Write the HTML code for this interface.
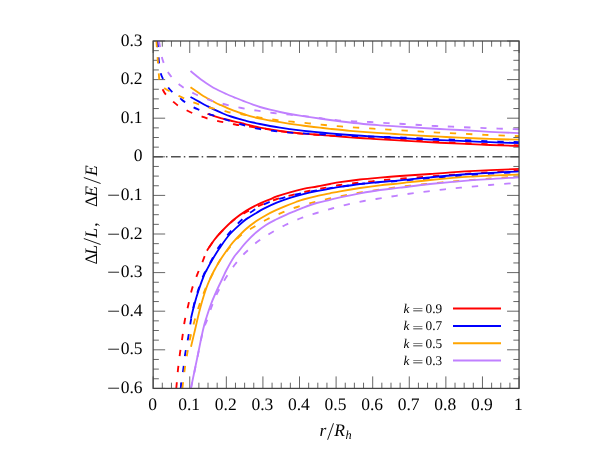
<!DOCTYPE html>
<html><head><meta charset="utf-8"><title>chart</title>
<style>.t{font-family:"Liberation Serif",serif;fill:#000;text-rendering:geometricPrecision;}html,body{margin:0;padding:0;background:#fff;}body{width:601px;height:450px;overflow:hidden;position:relative;font-family:"Liberation Serif",serif;}</style>
</head><body>
<svg width="601" height="450" viewBox="0 0 601 450" style="position:absolute;left:0;top:0">
<rect width="601" height="450" fill="#fff"/>
<defs><clipPath id="cp"><rect x="153.15" y="41.00" width="365.90" height="347.40"/></clipPath></defs>
<path d="M153.15 41.00 v12.00 M153.15 388.40 v-12.00 M162.30 41.00 v5.70 M162.30 388.40 v-5.70 M171.44 41.00 v5.70 M171.44 388.40 v-5.70 M180.59 41.00 v5.70 M180.59 388.40 v-5.70 M189.74 41.00 v12.00 M189.74 388.40 v-12.00 M198.89 41.00 v5.70 M198.89 388.40 v-5.70 M208.03 41.00 v5.70 M208.03 388.40 v-5.70 M217.18 41.00 v5.70 M217.18 388.40 v-5.70 M226.33 41.00 v12.00 M226.33 388.40 v-12.00 M235.48 41.00 v5.70 M235.48 388.40 v-5.70 M244.62 41.00 v5.70 M244.62 388.40 v-5.70 M253.77 41.00 v5.70 M253.77 388.40 v-5.70 M262.92 41.00 v12.00 M262.92 388.40 v-12.00 M272.07 41.00 v5.70 M272.07 388.40 v-5.70 M281.22 41.00 v5.70 M281.22 388.40 v-5.70 M290.36 41.00 v5.70 M290.36 388.40 v-5.70 M299.51 41.00 v12.00 M299.51 388.40 v-12.00 M308.66 41.00 v5.70 M308.66 388.40 v-5.70 M317.80 41.00 v5.70 M317.80 388.40 v-5.70 M326.95 41.00 v5.70 M326.95 388.40 v-5.70 M336.10 41.00 v12.00 M336.10 388.40 v-12.00 M345.25 41.00 v5.70 M345.25 388.40 v-5.70 M354.39 41.00 v5.70 M354.39 388.40 v-5.70 M363.54 41.00 v5.70 M363.54 388.40 v-5.70 M372.69 41.00 v12.00 M372.69 388.40 v-12.00 M381.84 41.00 v5.70 M381.84 388.40 v-5.70 M390.99 41.00 v5.70 M390.99 388.40 v-5.70 M400.13 41.00 v5.70 M400.13 388.40 v-5.70 M409.28 41.00 v12.00 M409.28 388.40 v-12.00 M418.43 41.00 v5.70 M418.43 388.40 v-5.70 M427.57 41.00 v5.70 M427.57 388.40 v-5.70 M436.72 41.00 v5.70 M436.72 388.40 v-5.70 M445.87 41.00 v12.00 M445.87 388.40 v-12.00 M455.02 41.00 v5.70 M455.02 388.40 v-5.70 M464.16 41.00 v5.70 M464.16 388.40 v-5.70 M473.31 41.00 v5.70 M473.31 388.40 v-5.70 M482.46 41.00 v12.00 M482.46 388.40 v-12.00 M491.61 41.00 v5.70 M491.61 388.40 v-5.70 M500.75 41.00 v5.70 M500.75 388.40 v-5.70 M509.90 41.00 v5.70 M509.90 388.40 v-5.70 M519.05 41.00 v12.00 M519.05 388.40 v-12.00 M153.15 41.00 h12.00 M519.05 41.00 h-12.00 M153.15 50.65 h5.70 M519.05 50.65 h-5.70 M153.15 60.30 h5.70 M519.05 60.30 h-5.70 M153.15 69.95 h5.70 M519.05 69.95 h-5.70 M153.15 79.60 h12.00 M519.05 79.60 h-12.00 M153.15 89.25 h5.70 M519.05 89.25 h-5.70 M153.15 98.90 h5.70 M519.05 98.90 h-5.70 M153.15 108.55 h5.70 M519.05 108.55 h-5.70 M153.15 118.20 h12.00 M519.05 118.20 h-12.00 M153.15 127.85 h5.70 M519.05 127.85 h-5.70 M153.15 137.50 h5.70 M519.05 137.50 h-5.70 M153.15 147.15 h5.70 M519.05 147.15 h-5.70 M153.15 156.80 h12.00 M519.05 156.80 h-12.00 M153.15 166.45 h5.70 M519.05 166.45 h-5.70 M153.15 176.10 h5.70 M519.05 176.10 h-5.70 M153.15 185.75 h5.70 M519.05 185.75 h-5.70 M153.15 195.40 h12.00 M519.05 195.40 h-12.00 M153.15 205.05 h5.70 M519.05 205.05 h-5.70 M153.15 214.70 h5.70 M519.05 214.70 h-5.70 M153.15 224.35 h5.70 M519.05 224.35 h-5.70 M153.15 234.00 h12.00 M519.05 234.00 h-12.00 M153.15 243.65 h5.70 M519.05 243.65 h-5.70 M153.15 253.30 h5.70 M519.05 253.30 h-5.70 M153.15 262.95 h5.70 M519.05 262.95 h-5.70 M153.15 272.60 h12.00 M519.05 272.60 h-12.00 M153.15 282.25 h5.70 M519.05 282.25 h-5.70 M153.15 291.90 h5.70 M519.05 291.90 h-5.70 M153.15 301.55 h5.70 M519.05 301.55 h-5.70 M153.15 311.20 h12.00 M519.05 311.20 h-12.00 M153.15 320.85 h5.70 M519.05 320.85 h-5.70 M153.15 330.50 h5.70 M519.05 330.50 h-5.70 M153.15 340.15 h5.70 M519.05 340.15 h-5.70 M153.15 349.80 h12.00 M519.05 349.80 h-12.00 M153.15 359.45 h5.70 M519.05 359.45 h-5.70 M153.15 369.10 h5.70 M519.05 369.10 h-5.70 M153.15 378.75 h5.70 M519.05 378.75 h-5.70 M153.15 388.40 h12.00 M519.05 388.40 h-12.00" stroke="#404040" stroke-width="0.8" fill="none"/>
<path d="M153.15 156.80 H519.05" stroke="#505050" stroke-width="1.6" stroke-dasharray="9.7 3.1 1.5 3.56" stroke-dashoffset="0" fill="none"/>
<g clip-path="url(#cp)" fill="none" stroke-width="1.85" stroke-linejoin="round">
<path d="M207.50 113.80 C208.75 114.22 211.92 115.35 215.00 116.30 C218.08 117.25 221.83 118.43 226.00 119.50 C230.17 120.57 236.67 121.90 240.00 122.70 C243.33 123.50 242.67 123.48 246.00 124.30 C249.33 125.12 254.33 126.48 260.00 127.60 C265.67 128.72 273.33 130.05 280.00 131.00 C286.67 131.95 293.33 132.65 300.00 133.30 C306.67 133.95 315.00 134.50 320.00 134.90 C325.00 135.30 325.00 135.30 330.00 135.70 C335.00 136.10 343.33 136.80 350.00 137.30 C356.67 137.80 363.33 138.28 370.00 138.70 C376.67 139.12 381.67 139.30 390.00 139.80 C398.33 140.30 408.33 141.05 420.00 141.70 C431.67 142.35 448.33 143.15 460.00 143.70 C471.67 144.25 480.12 144.62 490.00 145.00 C499.88 145.38 514.42 145.83 519.30 146.00" stroke="#ff0000"/>
<path d="M207.00 250.70 C208.17 248.95 211.50 243.48 214.00 240.20 C216.50 236.92 218.67 234.45 222.00 231.00 C225.33 227.55 230.00 222.85 234.00 219.50 C238.00 216.15 242.00 213.42 246.00 210.90 C250.00 208.38 254.00 206.33 258.00 204.40 C262.00 202.47 266.88 200.63 270.00 199.30 C273.12 197.97 273.37 197.57 276.70 196.40 C280.03 195.23 285.57 193.55 290.00 192.30 C294.43 191.05 298.80 189.87 303.30 188.90 C307.80 187.93 312.55 187.32 317.00 186.50 C321.45 185.68 326.17 184.72 330.00 184.00 C333.83 183.28 335.00 182.95 340.00 182.20 C345.00 181.45 353.33 180.27 360.00 179.50 C366.67 178.73 373.33 178.18 380.00 177.60 C386.67 177.02 391.67 176.60 400.00 176.00 C408.33 175.40 418.33 174.80 430.00 174.00 C441.67 173.20 455.12 172.05 470.00 171.20 C484.88 170.35 511.08 169.28 519.30 168.90" stroke="#ff0000"/>
<path d="M162.60 89.30 C163.12 90.15 164.00 92.40 165.70 94.40 C167.40 96.40 170.78 99.47 172.80 101.30 C174.82 103.13 175.55 103.93 177.80 105.40 C180.05 106.87 183.90 108.83 186.30 110.10 C188.70 111.37 189.67 111.97 192.20 113.00 C194.73 114.03 198.95 115.38 201.50 116.30 C204.05 117.22 204.92 117.75 207.50 118.50 C210.08 119.25 214.33 120.18 217.00 120.80 C219.67 121.42 220.83 121.67 223.50 122.20 C226.17 122.73 230.42 123.50 233.00 124.00 C235.58 124.50 236.17 124.77 239.00 125.20 C241.83 125.63 246.50 126.15 250.00 126.60 C253.50 127.05 255.00 127.13 260.00 127.90 C265.00 128.67 273.33 130.27 280.00 131.20 C286.67 132.13 293.33 132.87 300.00 133.50 C306.67 134.13 314.17 134.58 320.00 135.00 C325.83 135.42 332.50 135.83 335.00 136.00" stroke="#ff0000" stroke-dasharray="6.3 9.9" stroke-dashoffset="0"/>
<path d="M335.80 135.60 C338.17 135.78 344.30 136.28 350.00 136.70 C355.70 137.12 363.33 137.68 370.00 138.10 C376.67 138.52 381.67 138.72 390.00 139.20 C398.33 139.68 408.33 140.37 420.00 141.00 C431.67 141.63 448.33 142.45 460.00 143.00 C471.67 143.55 480.12 143.92 490.00 144.30 C499.88 144.68 514.42 145.13 519.30 145.30" stroke="#ff0000" stroke-dasharray="6.3 9.9" stroke-dashoffset="0"/>
<path d="M176.30 388.40 C176.58 385.23 177.38 375.27 178.00 369.40 C178.62 363.53 179.27 358.60 180.00 353.20 C180.73 347.80 181.62 342.37 182.40 337.00 C183.18 331.63 183.72 326.33 184.70 321.00 C185.68 315.67 187.08 310.33 188.30 305.00 C189.52 299.67 190.45 294.22 192.00 289.00 C193.55 283.78 195.82 278.32 197.60 273.70 C199.38 269.08 201.13 265.08 202.70 261.30 C204.27 257.52 205.12 254.48 207.00 251.00 C208.88 247.52 211.50 243.70 214.00 240.40 C216.50 237.10 218.67 234.63 222.00 231.20 C225.33 227.77 229.87 223.03 234.00 219.80 C238.13 216.57 242.27 214.30 246.80 211.80 C251.33 209.30 256.17 206.93 261.20 204.80 C266.23 202.67 271.73 200.67 277.00 199.00 C282.27 197.33 287.50 196.13 292.80 194.80 C298.10 193.47 303.48 192.15 308.80 191.00 C314.12 189.85 319.50 188.90 324.70 187.90 C329.90 186.90 334.78 185.82 340.00 185.00 C345.22 184.18 350.67 183.62 356.00 183.00 C361.33 182.38 366.67 181.85 372.00 181.30 C377.33 180.75 378.33 180.50 388.00 179.70 C397.67 178.90 416.33 177.53 430.00 176.50 C443.67 175.47 455.12 174.50 470.00 173.50 C484.88 172.50 511.08 171.00 519.30 170.50" stroke="#ff0000" stroke-dasharray="6.3 9.9" stroke-dashoffset="0"/>
<path d="M190.50 97.00 C191.42 97.50 194.25 99.03 196.00 100.00 C197.75 100.97 199.33 101.88 201.00 102.80 C202.67 103.72 204.58 104.77 206.00 105.50 C207.42 106.23 207.92 106.42 209.50 107.20 C211.08 107.98 213.25 109.15 215.50 110.20 C217.75 111.25 220.42 112.45 223.00 113.50 C225.58 114.55 228.17 115.55 231.00 116.50 C233.83 117.45 237.50 118.48 240.00 119.20 C242.50 119.92 243.83 120.25 246.00 120.80 C248.17 121.35 250.67 121.97 253.00 122.50 C255.33 123.03 257.17 123.42 260.00 124.00 C262.83 124.58 266.67 125.38 270.00 126.00 C273.33 126.62 276.67 127.18 280.00 127.70 C283.33 128.22 286.67 128.65 290.00 129.10 C293.33 129.55 296.67 130.00 300.00 130.40 C303.33 130.80 306.67 131.15 310.00 131.50 C313.33 131.85 316.67 132.18 320.00 132.50 C323.33 132.82 325.00 132.98 330.00 133.40 C335.00 133.82 343.33 134.52 350.00 135.00 C356.67 135.48 363.33 135.88 370.00 136.30 C376.67 136.72 381.67 137.02 390.00 137.50 C398.33 137.98 408.33 138.63 420.00 139.20 C431.67 139.77 448.33 140.40 460.00 140.90 C471.67 141.40 480.12 141.83 490.00 142.20 C499.88 142.57 514.42 142.95 519.30 143.10" stroke="#0000ff"/>
<path d="M191.00 318.00 C191.62 315.55 193.42 307.97 194.70 303.30 C195.98 298.63 197.15 294.67 198.70 290.00 C200.25 285.33 202.67 278.63 204.00 275.30 C205.33 271.97 205.37 272.50 206.70 270.00 C208.03 267.50 209.90 263.88 212.00 260.30 C214.10 256.72 216.30 252.88 219.30 248.50 C222.30 244.12 226.00 238.50 230.00 234.00 C234.00 229.50 239.97 224.38 243.30 221.50 C246.63 218.62 247.77 218.17 250.00 216.70 C252.23 215.23 254.48 214.00 256.70 212.70 C258.92 211.40 259.97 210.57 263.30 208.90 C266.63 207.23 272.25 204.53 276.70 202.70 C281.15 200.87 285.57 199.32 290.00 197.90 C294.43 196.48 298.85 195.32 303.30 194.20 C307.75 193.08 312.25 192.12 316.70 191.20 C321.15 190.28 326.12 189.42 330.00 188.70 C333.88 187.98 335.00 187.68 340.00 186.90 C345.00 186.12 353.33 184.82 360.00 184.00 C366.67 183.18 373.33 182.62 380.00 182.00 C386.67 181.38 391.67 181.08 400.00 180.30 C408.33 179.52 418.33 178.35 430.00 177.30 C441.67 176.25 455.12 175.00 470.00 174.00 C484.88 173.00 511.08 171.75 519.30 171.30" stroke="#0000ff"/>
<path d="M157.60 41.00 C157.80 44.17 158.52 56.17 158.80 60.00 C159.08 63.83 158.97 61.77 159.30 64.00 C159.63 66.23 160.15 70.87 160.80 73.40 C161.45 75.93 161.97 76.85 163.20 79.20 C164.43 81.55 166.63 85.30 168.20 87.50 C169.77 89.70 170.62 90.60 172.60 92.40 C174.58 94.20 178.00 96.67 180.10 98.30 C182.20 99.93 182.97 100.70 185.20 102.20 C187.43 103.70 191.12 106.00 193.50 107.30 C195.88 108.60 197.00 108.92 199.50 110.00 C202.00 111.08 205.92 112.80 208.50 113.80 C211.08 114.80 212.08 115.02 215.00 116.00 C217.92 116.98 221.83 118.37 226.00 119.70 C230.17 121.03 234.78 122.52 240.00 124.00 C245.22 125.48 251.52 127.43 257.30 128.60 C263.08 129.77 269.13 130.32 274.70 131.00 C280.27 131.68 285.37 132.27 290.70 132.70 C296.03 133.13 300.15 133.27 306.70 133.60 C313.25 133.93 322.78 134.33 330.00 134.70 C337.22 135.07 343.33 135.50 350.00 135.80 C356.67 136.10 363.88 136.32 370.00 136.50 C376.12 136.68 381.15 136.72 386.70 136.90 C392.25 137.08 397.75 137.35 403.30 137.60 C408.85 137.85 414.43 138.17 420.00 138.40 C425.57 138.63 431.25 138.78 436.70 139.00 C442.15 139.22 444.65 139.35 452.70 139.70 C460.75 140.05 473.90 140.68 485.00 141.10 C496.10 141.52 513.58 142.02 519.30 142.20" stroke="#0000ff" stroke-dasharray="6.3 9.9" stroke-dashoffset="0"/>
<path d="M180.70 388.40 C181.13 385.23 182.53 375.27 183.30 369.40 C184.07 363.53 184.47 358.60 185.30 353.20 C186.13 347.80 187.38 342.37 188.30 337.00 C189.22 331.63 189.80 326.62 190.80 321.00 C191.80 315.38 193.07 308.47 194.30 303.30 C195.53 298.13 196.67 294.67 198.20 290.00 C199.73 285.33 201.32 280.18 203.50 275.30 C205.68 270.42 208.78 265.37 211.30 260.70 C213.82 256.03 215.35 252.22 218.60 247.30 C221.85 242.38 227.10 235.62 230.80 231.20 C234.50 226.78 237.03 224.27 240.80 220.80 C244.57 217.33 248.97 213.38 253.40 210.40 C257.83 207.42 262.43 205.00 267.40 202.90 C272.37 200.80 277.97 199.32 283.20 197.80 C288.43 196.28 293.45 195.00 298.80 193.80 C304.15 192.60 310.10 191.53 315.30 190.60 C320.50 189.67 325.05 188.97 330.00 188.20 C334.95 187.43 339.67 186.73 345.00 186.00 C350.33 185.27 356.17 184.43 362.00 183.80 C367.83 183.17 373.67 182.68 380.00 182.20 C386.33 181.72 391.67 181.57 400.00 180.90 C408.33 180.23 418.33 179.18 430.00 178.20 C441.67 177.22 455.12 176.03 470.00 175.00 C484.88 173.97 511.08 172.50 519.30 172.00" stroke="#0000ff" stroke-dasharray="6.3 9.9" stroke-dashoffset="0"/>
<path d="M190.50 87.20 C191.42 87.83 194.25 89.78 196.00 91.00 C197.75 92.22 199.33 93.42 201.00 94.50 C202.67 95.58 204.33 96.55 206.00 97.50 C207.67 98.45 209.33 99.28 211.00 100.20 C212.67 101.12 214.33 102.17 216.00 103.00 C217.67 103.83 219.33 104.47 221.00 105.20 C222.67 105.93 224.50 106.75 226.00 107.40 C227.50 108.05 228.33 108.43 230.00 109.10 C231.67 109.77 234.00 110.67 236.00 111.40 C238.00 112.13 240.33 112.93 242.00 113.50 C243.67 114.07 244.17 114.23 246.00 114.80 C247.83 115.37 250.67 116.25 253.00 116.90 C255.33 117.55 257.17 118.10 260.00 118.70 C262.83 119.30 266.67 119.92 270.00 120.50 C273.33 121.08 276.67 121.65 280.00 122.20 C283.33 122.75 286.67 123.30 290.00 123.80 C293.33 124.30 296.67 124.75 300.00 125.20 C303.33 125.65 306.67 126.08 310.00 126.50 C313.33 126.92 316.67 127.32 320.00 127.70 C323.33 128.08 325.00 128.28 330.00 128.80 C335.00 129.32 343.33 130.20 350.00 130.80 C356.67 131.40 363.33 131.92 370.00 132.40 C376.67 132.88 385.00 133.38 390.00 133.70 C395.00 134.02 395.00 133.98 400.00 134.30 C405.00 134.62 413.33 135.20 420.00 135.60 C426.67 136.00 433.33 136.35 440.00 136.70 C446.67 137.05 451.67 137.33 460.00 137.70 C468.33 138.07 480.12 138.57 490.00 138.90 C499.88 139.23 514.42 139.57 519.30 139.70" stroke="#ffa500"/>
<path d="M191.00 346.70 C191.67 343.92 193.72 335.45 195.00 330.00 C196.28 324.55 197.42 319.12 198.70 314.00 C199.98 308.88 201.27 304.05 202.70 299.30 C204.13 294.55 205.63 289.80 207.30 285.50 C208.97 281.20 211.37 276.33 212.70 273.50 C214.03 270.67 213.97 270.87 215.30 268.50 C216.63 266.13 218.25 263.05 220.70 259.30 C223.15 255.55 227.45 249.38 230.00 246.00 C232.55 242.62 233.33 241.83 236.00 239.00 C238.67 236.17 242.67 231.95 246.00 229.00 C249.33 226.05 252.67 223.60 256.00 221.30 C259.33 219.00 262.67 217.05 266.00 215.20 C269.33 213.35 272.67 211.75 276.00 210.20 C279.33 208.65 282.67 207.27 286.00 205.90 C289.33 204.53 293.12 203.07 296.00 202.00 C298.88 200.93 299.85 200.48 303.30 199.50 C306.75 198.52 312.25 197.13 316.70 196.10 C321.15 195.07 326.12 194.10 330.00 193.30 C333.88 192.50 335.00 192.18 340.00 191.30 C345.00 190.42 353.33 189.00 360.00 188.00 C366.67 187.00 373.33 186.08 380.00 185.30 C386.67 184.52 391.67 184.18 400.00 183.30 C408.33 182.42 418.33 181.10 430.00 180.00 C441.67 178.90 455.12 177.63 470.00 176.70 C484.88 175.77 511.08 174.78 519.30 174.40" stroke="#ffa500"/>
<path d="M156.40 41.00 L159.20 79.40 L160.60 82.60 L164.20 88.10 C165.15 88.65 167.48 90.12 169.90 91.40 C172.32 92.68 176.23 94.62 178.70 95.80 C181.17 96.98 182.25 97.40 184.70 98.50 C187.15 99.60 190.90 101.38 193.40 102.40 C195.90 103.42 197.10 103.75 199.70 104.60 C202.30 105.45 206.37 106.77 209.00 107.50 C211.63 108.23 212.83 108.38 215.50 109.00 C218.17 109.62 222.42 110.60 225.00 111.20 C227.58 111.80 228.42 112.13 231.00 112.60 C233.58 113.07 238.00 113.60 240.50 114.00 C243.00 114.40 242.75 114.40 246.00 115.00 C249.25 115.60 255.00 116.77 260.00 117.60 C265.00 118.43 270.67 119.32 276.00 120.00 C281.33 120.68 286.55 121.15 292.00 121.70 C297.45 122.25 303.25 122.75 308.70 123.30 C314.15 123.85 319.37 124.48 324.70 125.00 C330.03 125.52 335.37 125.97 340.70 126.40 C346.03 126.83 351.27 127.22 356.70 127.60 C362.13 127.98 367.97 128.37 373.30 128.70 C378.63 129.03 383.25 129.28 388.70 129.60 C394.15 129.92 400.45 130.25 406.00 130.60 C411.55 130.95 416.67 131.37 422.00 131.70 C427.33 132.03 432.55 132.33 438.00 132.60 C443.45 132.87 446.87 132.92 454.70 133.30 C462.53 133.68 474.23 134.43 485.00 134.90 C495.77 135.37 513.58 135.90 519.30 136.10" stroke="#ffa500" stroke-dasharray="6.3 9.9" stroke-dashoffset="0"/>
<path d="M182.40 388.40 C182.78 385.23 183.88 375.27 184.70 369.40 C185.52 363.53 186.35 358.60 187.30 353.20 C188.25 347.80 189.22 342.32 190.40 337.00 C191.58 331.68 192.97 326.47 194.40 321.30 C195.83 316.13 197.28 311.12 199.00 306.00 C200.72 300.88 202.65 295.55 204.70 290.60 C206.75 285.65 208.97 280.98 211.30 276.30 C213.63 271.62 215.92 266.97 218.70 262.50 C221.48 258.03 224.45 253.92 228.00 249.50 C231.55 245.08 235.78 239.70 240.00 236.00 C244.22 232.30 248.75 230.08 253.30 227.30 C257.85 224.52 262.52 221.73 267.30 219.30 C272.08 216.87 277.00 214.75 282.00 212.70 C287.00 210.65 292.08 208.72 297.30 207.00 C302.52 205.28 308.07 203.78 313.30 202.40 C318.53 201.02 323.47 199.88 328.70 198.70 C333.93 197.52 339.37 196.35 344.70 195.30 C350.03 194.25 355.27 193.28 360.70 192.40 C366.13 191.52 371.87 190.78 377.30 190.00 C382.73 189.22 387.85 188.42 393.30 187.70 C398.75 186.98 404.55 186.32 410.00 185.70 C415.45 185.08 420.67 184.55 426.00 184.00 C431.33 183.45 436.55 182.90 442.00 182.40 C447.45 181.90 450.70 181.65 458.70 181.00 C466.70 180.35 479.90 179.28 490.00 178.50 C500.10 177.72 514.42 176.67 519.30 176.30" stroke="#ffa500" stroke-dasharray="6.3 9.9" stroke-dashoffset="0"/>
<path d="M190.50 71.00 C191.42 71.75 194.25 74.08 196.00 75.50 C197.75 76.92 199.33 78.25 201.00 79.50 C202.67 80.75 204.33 81.88 206.00 83.00 C207.67 84.12 209.33 85.20 211.00 86.20 C212.67 87.20 214.33 88.12 216.00 89.00 C217.67 89.88 219.33 90.70 221.00 91.50 C222.67 92.30 224.33 93.05 226.00 93.80 C227.67 94.55 229.33 95.30 231.00 96.00 C232.67 96.70 234.33 97.33 236.00 98.00 C237.67 98.67 239.33 99.33 241.00 100.00 C242.67 100.67 244.00 101.23 246.00 102.00 C248.00 102.77 250.67 103.77 253.00 104.60 C255.33 105.43 257.17 106.15 260.00 107.00 C262.83 107.85 266.67 108.87 270.00 109.70 C273.33 110.53 276.67 111.28 280.00 112.00 C283.33 112.72 286.67 113.38 290.00 114.00 C293.33 114.62 296.67 115.17 300.00 115.70 C303.33 116.23 305.00 116.48 310.00 117.20 C315.00 117.92 323.33 119.12 330.00 120.00 C336.67 120.88 343.33 121.75 350.00 122.50 C356.67 123.25 365.00 124.03 370.00 124.50 C375.00 124.97 375.00 124.95 380.00 125.30 C385.00 125.65 393.33 126.18 400.00 126.60 C406.67 127.02 413.33 127.40 420.00 127.80 C426.67 128.20 433.33 128.63 440.00 129.00 C446.67 129.37 451.67 129.53 460.00 130.00 C468.33 130.47 480.12 131.28 490.00 131.80 C499.88 132.32 514.42 132.88 519.30 133.10" stroke="#c080ff"/>
<path d="M190.90 388.40 C191.92 383.50 194.98 368.73 197.00 359.00 C199.02 349.27 201.38 337.05 203.00 330.00 C204.62 322.95 205.32 321.15 206.70 316.70 C208.08 312.25 209.58 307.75 211.30 303.30 C213.02 298.85 215.10 294.22 217.00 290.00 C218.90 285.78 221.12 281.33 222.70 278.00 C224.28 274.67 224.62 273.50 226.50 270.00 C228.38 266.50 231.67 260.50 234.00 257.00 C236.33 253.50 238.50 251.45 240.50 249.00 C242.50 246.55 243.42 245.05 246.00 242.30 C248.58 239.55 252.67 235.38 256.00 232.50 C259.33 229.62 262.67 227.17 266.00 225.00 C269.33 222.83 272.67 221.20 276.00 219.50 C279.33 217.80 282.67 216.28 286.00 214.80 C289.33 213.32 293.12 211.80 296.00 210.60 C298.88 209.40 299.85 208.87 303.30 207.60 C306.75 206.33 312.25 204.30 316.70 203.00 C321.15 201.70 326.12 200.75 330.00 199.80 C333.88 198.85 335.00 198.38 340.00 197.30 C345.00 196.22 353.33 194.52 360.00 193.30 C366.67 192.08 373.33 190.93 380.00 190.00 C386.67 189.07 391.67 188.70 400.00 187.70 C408.33 186.70 418.33 185.22 430.00 184.00 C441.67 182.78 455.12 181.52 470.00 180.40 C484.88 179.28 511.08 177.82 519.30 177.30" stroke="#c080ff"/>
<path d="M158.80 41.00 C158.93 41.52 158.97 40.98 159.60 44.10 C160.23 47.22 160.95 54.65 162.60 59.70 C164.25 64.75 166.43 70.05 169.50 74.40 C172.57 78.75 176.75 82.53 181.00 85.80 C185.25 89.07 190.17 91.62 195.00 94.00 C199.83 96.38 204.92 98.35 210.00 100.10 C215.08 101.85 220.25 103.18 225.50 104.50 C230.75 105.82 236.20 106.97 241.50 108.00 C246.80 109.03 252.00 109.87 257.30 110.70 C262.60 111.53 267.85 112.33 273.30 113.00 C278.75 113.67 284.43 114.15 290.00 114.70 C295.57 115.25 301.20 115.65 306.70 116.30 C312.20 116.95 317.78 117.93 323.00 118.60 C328.22 119.27 332.83 119.83 338.00 120.30 C343.17 120.77 348.67 121.12 354.00 121.40 C359.33 121.68 364.45 121.72 370.00 122.00 C375.55 122.28 381.75 122.77 387.30 123.10 C392.85 123.43 397.97 123.68 403.30 124.00 C408.63 124.32 413.97 124.67 419.30 125.00 C424.63 125.33 429.85 125.72 435.30 126.00 C440.75 126.28 443.72 126.35 452.00 126.70 C460.28 127.05 473.78 127.67 485.00 128.10 C496.22 128.53 513.58 129.10 519.30 129.30" stroke="#c080ff" stroke-dasharray="6.3 9.9" stroke-dashoffset="0"/>
<path d="M191.00 388.40 C192.02 383.50 195.08 368.73 197.10 359.00 C199.12 349.27 201.58 336.12 203.10 330.00 C204.62 323.88 204.80 326.13 206.20 322.30 C207.60 318.47 209.53 312.12 211.50 307.00 C213.47 301.88 215.58 296.50 218.00 291.60 C220.42 286.70 223.12 282.20 226.00 277.60 C228.88 273.00 231.97 268.27 235.30 264.00 C238.63 259.73 242.22 255.78 246.00 252.00 C249.78 248.22 254.00 244.38 258.00 241.30 C262.00 238.22 265.45 236.22 270.00 233.50 C274.55 230.78 280.08 227.58 285.30 225.00 C290.52 222.42 296.07 220.00 301.30 218.00 C306.53 216.00 311.58 214.58 316.70 213.00 C321.82 211.42 326.78 209.95 332.00 208.50 C337.22 207.05 342.67 205.55 348.00 204.30 C353.33 203.05 358.67 201.98 364.00 201.00 C369.33 200.02 374.67 199.27 380.00 198.40 C385.33 197.53 390.67 196.65 396.00 195.80 C401.33 194.95 406.67 194.05 412.00 193.30 C417.33 192.55 422.55 191.97 428.00 191.30 C433.45 190.63 439.25 189.90 444.70 189.30 C450.15 188.70 453.15 188.42 460.70 187.70 C468.25 186.98 480.23 185.83 490.00 185.00 C499.77 184.17 514.42 183.08 519.30 182.70" stroke="#c080ff" stroke-dasharray="6.3 9.9" stroke-dashoffset="0"/>
</g>
<rect x="153.15" y="41.00" width="365.90" height="347.40" fill="none" stroke="#424242" stroke-width="1.25"/>
<path d="M453 308.60 H501" stroke="#ff0000" stroke-width="2" fill="none"/>
<path d="M453 325.90 H501" stroke="#0000ff" stroke-width="2" fill="none"/>
<path d="M453 343.20 H501" stroke="#ffa500" stroke-width="2" fill="none"/>
<path d="M453 360.60 H501" stroke="#c080ff" stroke-width="2" fill="none"/>
<g opacity="0.999">
<text x="142.6" y="45.50" text-anchor="end" font-size="17.5" class="t">0.3</text>
<text x="142.6" y="84.10" text-anchor="end" font-size="17.5" class="t">0.2</text>
<text x="142.6" y="122.70" text-anchor="end" font-size="17.5" class="t">0.1</text>
<text x="142.6" y="161.30" text-anchor="end" font-size="17.5" class="t">0</text>
<text transform="translate(107.0,200.90) scale(1.34,1)" font-size="17.5" class="t">−</text>
<text x="142.6" y="199.90" text-anchor="end" font-size="17.5" class="t">0.1</text>
<text transform="translate(107.0,239.50) scale(1.34,1)" font-size="17.5" class="t">−</text>
<text x="142.6" y="238.50" text-anchor="end" font-size="17.5" class="t">0.2</text>
<text transform="translate(107.0,278.10) scale(1.34,1)" font-size="17.5" class="t">−</text>
<text x="142.6" y="277.10" text-anchor="end" font-size="17.5" class="t">0.3</text>
<text transform="translate(107.0,316.70) scale(1.34,1)" font-size="17.5" class="t">−</text>
<text x="142.6" y="315.70" text-anchor="end" font-size="17.5" class="t">0.4</text>
<text transform="translate(107.0,355.30) scale(1.34,1)" font-size="17.5" class="t">−</text>
<text x="142.6" y="354.30" text-anchor="end" font-size="17.5" class="t">0.5</text>
<text transform="translate(107.0,393.90) scale(1.34,1)" font-size="17.5" class="t">−</text>
<text x="142.6" y="392.90" text-anchor="end" font-size="17.5" class="t">0.6</text>
<text x="152.55" y="410" text-anchor="middle" font-size="17.5" class="t">0</text>
<text x="189.14" y="410" text-anchor="middle" font-size="17.5" class="t">0.1</text>
<text x="225.73" y="410" text-anchor="middle" font-size="17.5" class="t">0.2</text>
<text x="262.32" y="410" text-anchor="middle" font-size="17.5" class="t">0.3</text>
<text x="298.91" y="410" text-anchor="middle" font-size="17.5" class="t">0.4</text>
<text x="335.50" y="410" text-anchor="middle" font-size="17.5" class="t">0.5</text>
<text x="372.09" y="410" text-anchor="middle" font-size="17.5" class="t">0.6</text>
<text x="408.68" y="410" text-anchor="middle" font-size="17.5" class="t">0.7</text>
<text x="445.27" y="410" text-anchor="middle" font-size="17.5" class="t">0.8</text>
<text x="481.86" y="410" text-anchor="middle" font-size="17.5" class="t">0.9</text>
<text x="518.45" y="410" text-anchor="middle" font-size="17.5" class="t">1</text>
<text x="403.6" y="313.00" font-size="13.3" font-style="italic" class="t">k</text>
<text transform="translate(412.3,314.20) scale(1.486,1)" font-size="13.3" class="t">=</text>
<text x="425.5" y="313.00" font-size="13.3" class="t">0.9</text>
<text x="403.6" y="330.30" font-size="13.3" font-style="italic" class="t">k</text>
<text transform="translate(412.3,331.50) scale(1.486,1)" font-size="13.3" class="t">=</text>
<text x="425.5" y="330.30" font-size="13.3" class="t">0.7</text>
<text x="403.6" y="347.60" font-size="13.3" font-style="italic" class="t">k</text>
<text transform="translate(412.3,348.80) scale(1.486,1)" font-size="13.3" class="t">=</text>
<text x="425.5" y="347.60" font-size="13.3" class="t">0.5</text>
<text x="403.6" y="365.00" font-size="13.3" font-style="italic" class="t">k</text>
<text transform="translate(412.3,366.20) scale(1.486,1)" font-size="13.3" class="t">=</text>
<text x="425.5" y="365.00" font-size="13.3" class="t">0.3</text>
<text x="319.6" y="436" font-size="17.5" font-style="italic" class="t">r</text>
<path d="M327.6 439.8 L333.5 423.2" stroke="#000" stroke-width="0.9" fill="none"/>
<text x="334.2" y="436" font-size="17.5" font-style="italic" class="t">R</text>
<text x="345.4" y="438.9" font-size="12.3" font-style="italic" class="t">h</text>
<g transform="translate(96.7,264.4) rotate(-90)">
<text x="0.00" y="0" font-size="17.5"  class="t">Δ</text>
<text x="9.60" y="0" font-size="17.5" font-style="italic" class="t">L</text>
<path d="M19.9 3.9 L25.9 -12.9" stroke="#000" stroke-width="0.9" fill="none"/>
<text x="26.60" y="0" font-size="17.5" font-style="italic" class="t">L</text>
<text x="37.60" y="0" font-size="17.5"  class="t">,</text>
<text x="57.40" y="0" font-size="17.5"  class="t">Δ</text>
<text x="67.60" y="0" font-size="17.5" font-style="italic" class="t">E</text>
<path d="M80.9 3.9 L86.9 -12.9" stroke="#000" stroke-width="0.9" fill="none"/>
<text x="88.30" y="0" font-size="17.5" font-style="italic" class="t">E</text>
</g>
</g>
</svg>
</body></html>
